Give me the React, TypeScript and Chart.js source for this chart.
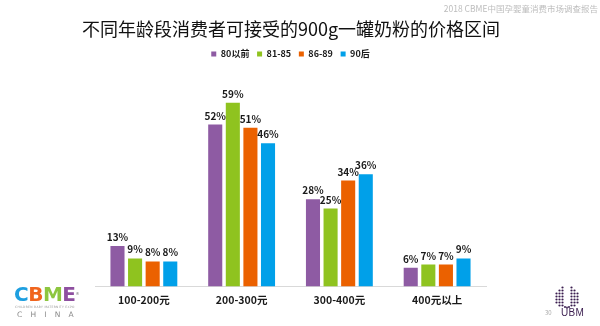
import React, { useEffect, useRef } from "react";
import { Chart, registerables } from "chart.js";

Chart.register(...registerables);

const categories = ["100-200元", "200-300元", "300-400元", "400元以上"];
const seriesNames = ["80以前", "81-85", "86-89", "90后"];
const before80 = [13, 52, 28, 6];
const s81to85 = [9, 59, 25, 7];
const s86to89 = [8, 51, 34, 7];
const after90 = [8, 46, 36, 9];
const seriesColors = ["#8e5ba3", "#8fc31f", "#eb6100", "#00a0e9"];
const titleText = "不同年龄段消费者可接受的900g一罐奶粉的价格区间";
const headerText = "2018 CBME中国孕婴童消费市场调查报告";
const pageNumber = "30";

const FONT = "'Noto Sans CJK SC', 'Noto Sans', sans-serif";

const valueLabels = {
  id: "valueLabels",
  afterDatasetsDraw(chart: any) {
    const ctx = chart.ctx;
    ctx.save();
    ctx.font = `bold 10px ${FONT}`;
    ctx.fillStyle = "#1a1a1a";
    ctx.textAlign = "center";
    ctx.textBaseline = "alphabetic";
    chart.data.datasets.forEach((ds: any, i: number) => {
      const meta = chart.getDatasetMeta(i);
      meta.data.forEach((bar: any, j: number) => {
        ctx.fillText(ds.data[j] + "%", bar.x, bar.y - 5);
      });
    });
    ctx.restore();
  },
};

function UbmDots() {
  const dots: Array<[number, number, number]> = [];
  const cols = [
    [0, [6, 9, 12, 15]],
    [3, [3, 6, 9, 12, 15, 18]],
    [6, [0, 3, 6, 9, 12, 15, 18]],
  ] as Array<[number, number[]]>;
  cols.forEach(([x, ys]) => {
    ys.forEach((y) => {
      dots.push([x, y, 1.1]);
      dots.push([21 - x, y, 1.1]);
    });
  });
  dots.push([8.5, 19.5, 1]);
  dots.push([12.5, 19.5, 1]);
  dots.push([10.5, 20, 0.9]);
  return (
    <svg width={24} height={24} viewBox="-1.5 -1.5 24 24" style={{ position: "absolute", left: 555, top: 286 }}>
      {dots.map(([x, y, r], i) => (
        <circle key={i} cx={x} cy={y} r={r} fill="#3a1d4f" />
      ))}
    </svg>
  );
}

export default function App() {
  const canvasRef = useRef<HTMLCanvasElement | null>(null);

  useEffect(() => {
    if (!canvasRef.current) return;
    const allSeries = [before80, s81to85, s86to89, after90];
    const chart = new Chart(canvasRef.current, {
      type: "bar",
      data: {
        labels: categories,
        datasets: allSeries.map((d, i) => ({
          label: seriesNames[i],
          data: d,
          backgroundColor: seriesColors[i],
          borderWidth: 0,
          barPercentage: 0.8,
          categoryPercentage: 0.72,
        })),
      },
      options: {
        animation: false,
        responsive: false,
        maintainAspectRatio: false,
        layout: { padding: { left: 95, right: 114, top: 41.8, bottom: 13 } },
        plugins: {
          title: { display: false },
          legend: {
            display: true,
            position: "top",
            labels: {
              boxWidth: 5,
              boxHeight: 5,
              padding: 7.7,
              color: "#1a1a1a",
              font: { family: FONT, size: 9, weight: "bold" },
            },
          },
          tooltip: { enabled: false },
        },
        scales: {
          x: {
            grid: { display: true, drawOnChartArea: false, drawTicks: false, color: "rgba(0,0,0,0)" },
            border: { display: true, color: "#d9d9d9", width: 1 },
            ticks: {
              padding: 7,
              color: "#1a1a1a",
              font: { family: FONT, size: 10.5, weight: "bold" },
            },
          },
          y: {
            display: false,
            min: 0,
            max: 70,
          },
        },
      },
      plugins: [valueLabels],
    });
    return () => chart.destroy();
  }, []);

  return (
    <div style={{ position: "fixed", left: 0, top: 0, width: 600, height: 326, background: "#fff", overflow: "hidden" }}>
      <canvas ref={canvasRef} width={600} height={326} style={{ position: "absolute", left: 0, top: 0, width: 600, height: 326 }} />
      <div
        style={{
          position: "absolute",
          left: 0,
          top: 16,
          width: 582,
          textAlign: "center",
          fontFamily: FONT,
          fontSize: 18,
          lineHeight: "24px",
          color: "#111",
          whiteSpace: "nowrap",
        }}
      >
        {titleText}
      </div>
      <div
        style={{
          position: "absolute",
          right: 2,
          top: 2,
          fontFamily: FONT,
          fontSize: 8.5,
          color: "#bdbdbd",
          whiteSpace: "nowrap",
          lineHeight: "12px",
        }}
      >
        {headerText}
      </div>
      <div style={{ position: "absolute", left: 14, top: 283, fontFamily: "'DejaVu Sans', sans-serif", fontWeight: "bold", fontSize: 20, lineHeight: "22px", whiteSpace: "nowrap", letterSpacing: -0.5 }}>
        <span style={{ color: "#1e9fe0" }}>C</span>
        <span style={{ color: "#f0651e" }}>B</span>
        <span style={{ color: "#8dc63f" }}>M</span>
        <span style={{ color: "#8e4fa0" }}>E</span>
        <span style={{ color: "#999", fontSize: 4, verticalAlign: "top" }}>®</span>
      </div>
      <div style={{ position: "absolute", left: 15, top: 305, fontFamily: "'DejaVu Sans', sans-serif", fontSize: 3, color: "#999", whiteSpace: "nowrap", letterSpacing: 0.3 }}>
        CHILDREN BABY MATERNITY EXPO
      </div>
      <div style={{ position: "absolute", left: 17, top: 310, fontFamily: "'DejaVu Sans', sans-serif", fontSize: 7.5, color: "#8a8a8a", whiteSpace: "nowrap", letterSpacing: 8.2, lineHeight: "10px" }}>
        CHINA
      </div>
      <UbmDots />
      <div style={{ position: "absolute", left: 545, top: 308, fontFamily: FONT, fontSize: 6, color: "#aaa", lineHeight: "10px" }}>{pageNumber}</div>
      <div style={{ position: "absolute", left: 561, top: 306, fontFamily: "'Liberation Sans', sans-serif", fontSize: 10, color: "#3a1d4f", lineHeight: "14px", letterSpacing: 0.3 }}>UBM</div>
    </div>
  );
}
